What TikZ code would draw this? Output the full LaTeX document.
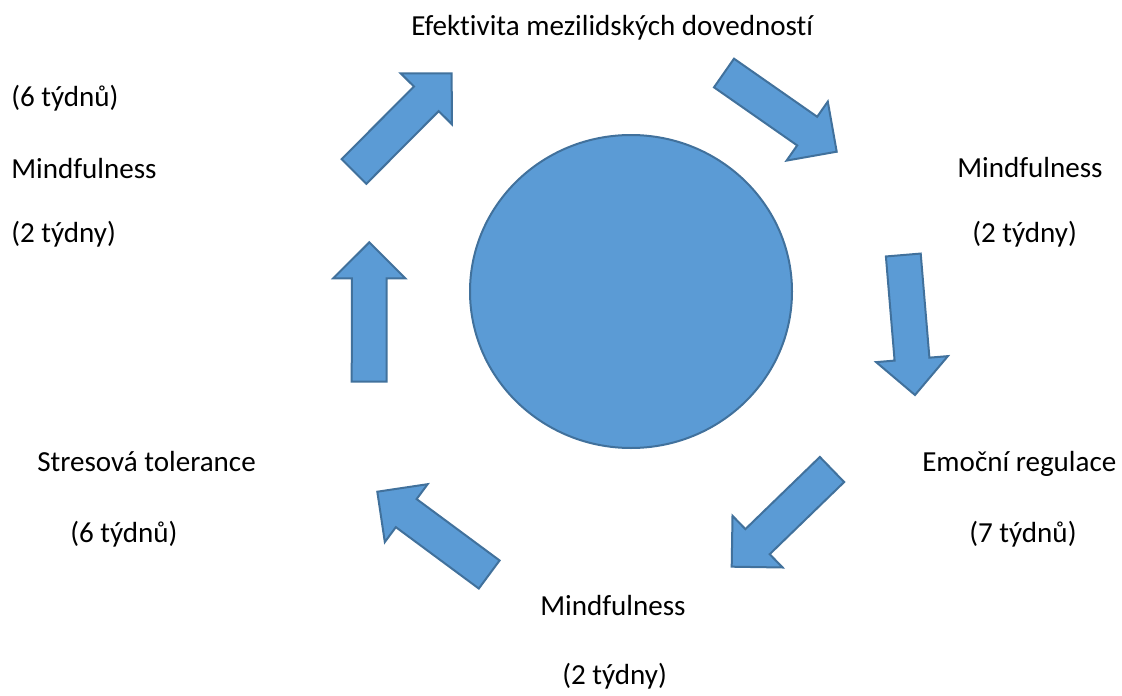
\documentclass[tikz,border=0pt]{standalone}
\usepackage{fontspec}
\setmainfont{Carlito}[RawFeature={-liga;-clig;-dlig}]
\usetikzlibrary{calc}
\definecolor{shapefill}{HTML}{5B9BD5}
\definecolor{shapeline}{HTML}{41719C}
\tikzset{
  blockarrowstyle/.style={fill=shapefill, draw=shapeline, line width=1.5pt, line join=miter},
  lbl/.style={font=\fontsize{21.8}{26}\selectfont, inner sep=0pt, anchor=base west, text=black}
}
\newcommand\blockarrowdraw[2]{%
  \coordinate (#1b) at ($(#2)!27pt!(#1)$);
  \draw[blockarrowstyle] ($(#1)!13.1pt!90:(#2)$) -- ($(#1b)!13.1pt!90:(#2)$) -- ($(#1b)!27pt!90:(#2)$) -- (#2)
    -- ($(#1b)!27pt!-90:(#2)$) -- ($(#1b)!13.1pt!-90:(#2)$) -- ($(#1)!13.1pt!-90:(#2)$) -- cycle;
}
\begin{document}
\begin{tikzpicture}[x=0.75pt,y=-0.75pt]
\useasboundingbox (0,0) rectangle (1122,696);
% centre ellipse
\draw[fill=shapefill, draw=shapeline, line width=1.5pt] (631,291.5) ellipse [x radius=161, y radius=156.5];
% arrows: tail centre and tip
\coordinate (ta) at (354,171.5);   \coordinate (pa) at (451.7,73.3);
\coordinate (tb) at (724,73);      \coordinate (pb) at (836.7,151.7);
\coordinate (tc) at (903.3,255);   \coordinate (pc) at (915,395);
\coordinate (td) at (832,469.5);   \coordinate (pd) at (731.7,566.7);
\coordinate (te) at (489.2,574.5); \coordinate (pe) at (377.3,491.7);
\coordinate (tf) at (369.2,381.7); \coordinate (pf) at (369.3,242.3);
\blockarrowdraw{ta}{pa}
\blockarrowdraw{tb}{pb}
\blockarrowdraw{tc}{pc}
\blockarrowdraw{td}{pd}
\blockarrowdraw{te}{pe}
\blockarrowdraw{tf}{pf}
% labels
\node[lbl] (top) at (411,36) {Efektivita mezilidských dovedností};
\node[lbl] (l1) at (11,106) {(6 týdnů)};
\node[lbl] (l2) at (11,178) {Mindfulness};
\node[lbl] (l3) at (11,242) {(2 týdny)};
\node[lbl] (r1) at (957,177) {Mindfulness};
\node[lbl] (r2) at (972,242) {(2 týdny)};
\node[lbl] (r3) at (922,471) {Emoční regulace};
\node[lbl] (r4) at (969,542) {(7 týdnů)};
\node[lbl] (s1) at (37,471) {Stresová tolerance};
\node[lbl] (s2) at (70,542) {(6 týdnů)};
\node[lbl] (b1) at (540,615) {Mindfulness};
\node[lbl] (b2) at (562,684) {(2 týdny)};
\end{tikzpicture}
\end{document}
